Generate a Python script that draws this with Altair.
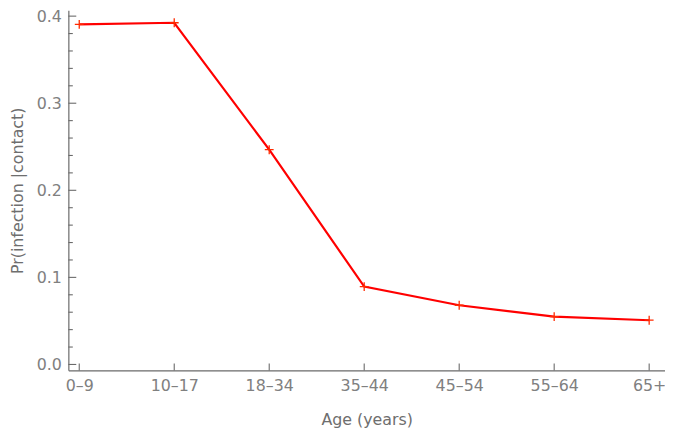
import altair as alt
import pandas as pd

categories = ["0–9", "10–17", "18–34", "35–44", "45–54", "55–64", "65+"]
values = [0.3906, 0.3924, 0.2466, 0.0894, 0.068, 0.0549, 0.0508]
y_major = [0.0, 0.1, 0.2, 0.3, 0.4]
y_minor = [0.02, 0.04, 0.06, 0.08, 0.12, 0.14, 0.16, 0.18,
           0.22, 0.24, 0.26, 0.28, 0.32, 0.34, 0.36, 0.38]

df = pd.DataFrame({"age": categories, "idx": list(range(len(categories))), "p": values})
df_major = pd.DataFrame({"p": y_major})
df_minor = pd.DataFrame({"p": y_minor})

W, H = 603, 364
FONT = "DejaVu Sans"
LABEL_COLOR = "#808080"
AXIS_COLOR = "#6a6a6a"

xscale = alt.Scale(domain=[-0.1146, 6.1667], nice=False, zero=False)
yscale = alt.Scale(domain=[-0.0068, 0.4068], nice=False, zero=False)

label_expr = "[" + ",".join("'" + c + "'" for c in categories) + "][datum.value]"

xaxis = alt.Axis(values=list(range(len(categories))), labelExpr=label_expr, title="Age (years)",
                 ticks=False, grid=False, labelPadding=7, titlePadding=19,
                 labelFont=FONT, labelFontSize=16, labelColor=LABEL_COLOR,
                 titleFont=FONT, titleFontSize=16, titleColor="#6e6e6e", titleFontWeight="normal",
                 domainColor=AXIS_COLOR, domainWidth=1.2)
yaxis = alt.Axis(values=y_major, format=".1f", title="Pr(infection |contact)",
                 ticks=False, grid=False, labelPadding=7, titlePadding=11,
                 labelFont=FONT, labelFontSize=16, labelColor=LABEL_COLOR,
                 titleFont=FONT, titleFontSize=16, titleColor="#6e6e6e", titleFontWeight="normal",
                 domainColor=AXIS_COLOR, domainWidth=1.2)

X = alt.X("idx:Q", scale=xscale, axis=xaxis)
Y = alt.Y("p:Q", scale=yscale, axis=yaxis)

base = alt.Chart(df).encode(x=X, y=Y)

line = base.mark_line(color="#ff0000", strokeWidth=2.2)
points = base.mark_point(shape="M-1,0L1,0M0,-1L0,1", size=80, filled=False,
                         color="#ff2a00", strokeWidth=1.3, opacity=1)

ymaj = alt.Chart(df_major).mark_rule(color=AXIS_COLOR, strokeWidth=1.1).encode(
    y=Y, x=alt.value(0), x2=alt.value(8))
ymin = alt.Chart(df_minor).mark_rule(color=AXIS_COLOR, strokeWidth=1.1).encode(
    y=Y, x=alt.value(0), x2=alt.value(4.5))
xt = alt.Chart(df).mark_rule(color=AXIS_COLOR, strokeWidth=1.1).encode(
    x=X, y=alt.value(H), y2=alt.value(H - 7))

chart = alt.layer(line, points, ymaj, ymin, xt).properties(
    width=W, height=H,
    autosize=alt.AutoSizeParams(type="none"),
    padding={"left": 61, "top": 0, "right": 0, "bottom": 56},
    background="white",
).configure_view(stroke=None)

chart.save("out.html", embed_options={"renderer": "svg", "actions": False})
